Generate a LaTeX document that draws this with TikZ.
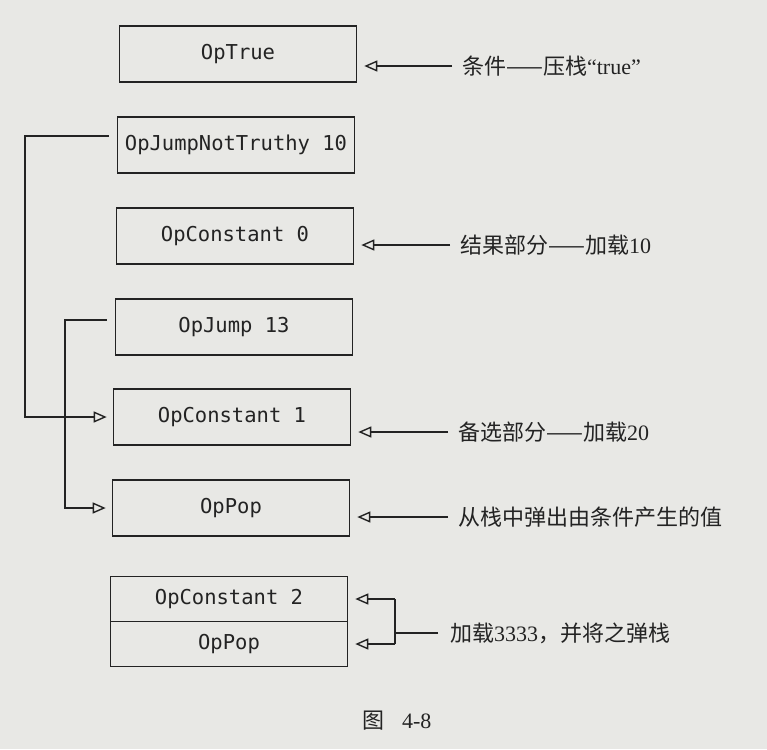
\documentclass[tikz,border=0pt]{standalone}
\usepackage{fontspec}
\setmainfont{Liberation Serif}
\setmonofont{DejaVu Sans Mono}
\newfontfamily\cjk{Noto Sans CJK SC}
\usetikzlibrary{arrows.meta}
\definecolor{paper}{RGB}{232,232,229}
\definecolor{ink}{RGB}{35,35,35}
\tikzset{
  opbox/.style={draw=ink, line width=1.6pt, minimum width=237pt, minimum height=56pt, inner sep=0pt, text=ink, font=\fontsize{20.5}{24}\ttfamily},
  lbl/.style={anchor=west, inner sep=2pt, text=ink, font=\fontsize{22}{26}\selectfont},
  arr/.style={draw=ink, line width=1.5pt, -{Triangle[open, length=13pt, width=11pt, line width=1.4pt]}},
  ln/.style={draw=ink, line width=1.5pt}
}
\begin{document}
\begin{tikzpicture}[x=1pt,y=-1pt]
\fill[paper] (0,0) rectangle (767,749);
\useasboundingbox (0,0) rectangle (767,749);

\node[opbox] (b1) at (238,54) {OpTrue};
\node[opbox] (b2) at (236,145) {OpJumpNotTruthy 10};
\node[opbox] (b3) at (235,236) {OpConstant 0};
\node[opbox] (b4) at (234,327) {OpJump 13};
\node[opbox] (b5) at (232,417) {OpConstant 1};
\node[opbox] (b6) at (231,508) {OpPop};
\node[opbox, minimum height=45pt] (b7a) at (229,599) {OpConstant 2};
\node[opbox, minimum height=45pt] (b7b) at (229,644) {OpPop};

\node[lbl] (l1) at (460,66) {{\cjk 条件——压栈}“true”};
\node[lbl] (l2) at (458,245) {{\cjk 结果部分——加载}10};
\node[lbl] (l3) at (456,432) {{\cjk 备选部分——加载}20};
\node[lbl] (l4) at (456,517) {\cjk 从栈中弹出由条件产生的值};
\node[lbl] (l5) at (448,633) {{\cjk 加载}3333{\cjk ，并将之弹栈}};
\node[text=ink, font=\fontsize{22}{26}\selectfont] (cap) at (397,721) {{\cjk 图}\hspace{0.8em}4-8};

\draw[arr, shorten <=8pt, shorten >=7pt] (l1.west) -- (b1.east |- l1.west);
\draw[arr, shorten <=8pt, shorten >=7pt] (l2.west) -- (b3.east |- l2.west);
\draw[arr, shorten <=8pt, shorten >=7pt] (l3.west) -- (b5.east |- l3.west);
\draw[arr, shorten <=8pt, shorten >=7pt] (l4.west) -- (b6.east |- l4.west);

\coordinate (br) at (395,633);
\draw[ln, shorten <=10pt] (l5.west) -- (br);
\draw[ln] (br |- b7a.east) -- (br |- b7b.east);
\draw[arr, shorten >=7pt] (br |- b7a.east) -- (b7a.east);
\draw[arr, shorten >=7pt] (br |- b7b.east) -- (b7b.east);

\coordinate (j1) at (25,0);
\coordinate (j2) at (65,0);
\draw[arr, shorten >=6pt] ([xshift=-8pt, yshift=9pt]b2.west) -| (j1 |- b5.west) -- (b5.west);
\draw[arr, shorten >=6pt] ([xshift=-8pt, yshift=7pt]b4.west) -| (j2 |- b6.west) -- (b6.west);
\end{tikzpicture}
\end{document}
